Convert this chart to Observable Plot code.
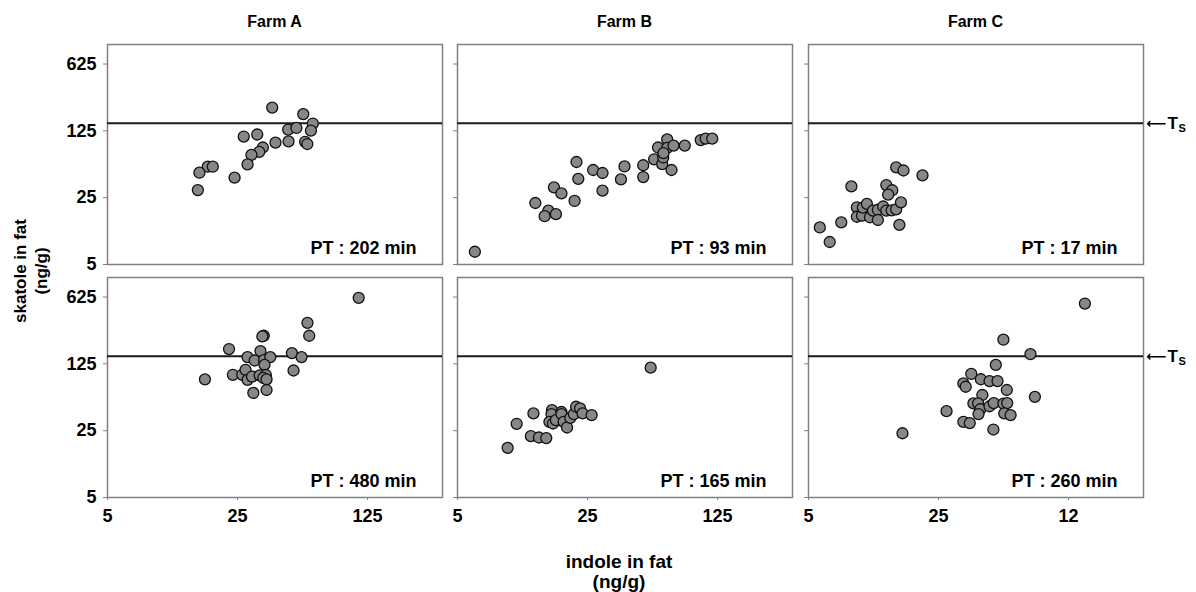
<!DOCTYPE html>
<html><head><meta charset="utf-8">
<script src="https://cdn.jsdelivr.net/npm/d3@7"></script>
<script src="https://cdn.jsdelivr.net/npm/@observablehq/plot@0.6"></script>
<style>
body{margin:0;background:#fff;}
#chart{position:relative;width:1196px;height:592px;font-family:"Liberation Sans",Arial,sans-serif;font-weight:bold;color:#000;overflow:hidden;}
.lbl{position:absolute;white-space:nowrap;text-align:center;}
#chart svg{position:absolute;overflow:visible;}
</style></head><body><div id="chart"></div>
<script>
// ---- data ----
const farms = ["Farm A", "Farm B", "Farm C"];
const yTicks = [5, 25, 125, 625];
const xTicks = [5, 25, 125];
const xTickLabelsA = ["5", "25", "125"];
const xTickLabelsB = ["5", "25", "125"];
const xTickLabelsC = ["5", "25", "12"];
const threshold = 150;
const ptTop = ["PT : 202 min", "PT : 93 min", "PT : 17 min"];
const ptBottom = ["PT : 480 min", "PT : 165 min", "PT : 260 min"];

const aTopIndole  = [38.4,56.4,63.5,46.8,51.8,62,27,31.9,40,47,57.7,59.3,34.2,32.7,29.7,28.3,17.3,18.4,15.6,24.1,15.3];
const aTopSkatole = [219,187,149,129,134,125.5,109,114.5,94,97,96,91,83.7,75.3,70,55.7,52.7,52.7,45.6,40.5,30];

const bTopIndole  = [6.2,13.1,15.4,14.7,16.9,16.5,18.1,21.3,21.8,22.3,26.8,30.1,30.1,37.8,39.5,49.8,49.8,57,63,63.8,59.8,67,67,72.5,64,70.7,83.3,101.5,107.8,117];
const bTopSkatole = [6.8,22,18.3,16,16.8,32,27.7,23.1,59,39.3,48.7,45.3,29.6,38.8,53,54.6,41.1,63,56,65.8,83.7,101.8,82.8,87.6,73,48.7,87.6,100,103.6,103.6];

const cTopIndole  = [5.75,6.5,7.5,8.5,9.1,9.1,9.7,9.8,10.3,10.7,11.1,11.8,11.8,12.6,13.1,13.1,14.1,13.4,14,14.8,15.7,15.4,14.8,16.2,20.5];
const cTopSkatole = [12.2,8.6,13.8,32.8,19.8,15.8,16.2,19.7,21.5,15.6,18.3,18.7,14.6,20.2,18.3,33.9,29.9,26.9,18.4,18.9,22.3,13,51.8,48.1,42.8];

const aBotIndole  = [112,59.4,60.7,34.6,34,22.5,33.2,28.3,30.9,34.7,37.5,34.9,49,55.2,16.7,23.6,26.5,27.6,28.3,29.9,32.9,35.5,34.4,35.8,30.4,35.8,50];
const aBotSkatole = [613,335,246,246,242,178.5,170,147,135.5,137,147,122,162,147,86,96,96,108,85,92,94.7,95.5,89,86,62,66.6,106.5];

const bBotIndole  = [54.6,9.3,10.4,12.8,12.4,13.7,15,16.1,16,15.6,16.3,16.9,18.1,18.1,18.6,19.4,20.2,21.1,21.7,22.8,23.5,26.3];
const bBotSkatole = [114,16.5,29.5,37.9,21.9,21.2,20.9,41,37.3,30.9,29.7,32.2,39.2,37.3,30.9,27,34,37.3,44.5,42.8,37.9,36.4];

const cBotIndole  = [153,55.8,78,50.8,37.5,42.2,47,51.9,34,35,58.2,82.4,43,38.5,40.8,41.9,47,49.5,55.8,58.5,41,56.4,61,27.6,34,36.8,49.3,16];
const cBotSkatole = [534,223.5,158,122,98,86.3,82.5,82.5,78,72,66.6,56.5,59,48.2,48.2,41.9,45,48.6,48,48.6,37.3,37.9,36.4,40,30.9,30,25.7,23.5];

// ---- layout ----
const chart = document.getElementById("chart");
const frameLefts = [107, 457, 808];
const frameTops = [44, 277];
const PW = 335, PH = 220;

function panel(col, row, indole, skatole, pt, xLabels) {
  const ml = col === 0 ? 62 : 8;
  const mr = col === 2 ? 52 : 2;
  const mt = 2;
  const mb = row === 1 ? 34 : 2;
  const data = indole.map((x, i) => ({x, y: skatole[i]}));
  const marks = [
    Plot.axisY({ticks: yTicks, anchor: "left", tickSize: 4, stroke: "#808080", tickFormat: () => "", label: null}),
    Plot.frame({stroke: "#808080", strokeWidth: 1.5}),
    Plot.ruleY([threshold], {stroke: "#1a1a1a", strokeWidth: 1.8}),
    Plot.dot(data, {x: "x", y: "y", r: 5.5, fill: "#878787", stroke: "#111", strokeWidth: 1.3}),
    Plot.text([pt], {text: d => d, frameAnchor: "bottom-right", dx: -26, dy: -16, textAnchor: "end",
      lineAnchor: "middle", fontSize: 18, fontWeight: "bold", fill: "#000"})
  ];
  if (col === 0) {
    marks.push(Plot.text(yTicks, {y: d => d, text: d => String(d), frameAnchor: "left", dx: -11,
      textAnchor: "end", lineAnchor: "middle", fontSize: 18, fontWeight: "bold", fill: "#000"}));
  }
  if (row === 1) {
    marks.push(Plot.axisX({ticks: xTicks, anchor: "bottom", tickSize: 3, tickPadding: 9, stroke: "#808080",
      fontSize: 18, fontWeight: "bold", fill: "#000",
      tickFormat: d => xLabels[xTicks.indexOf(d)], label: null}));
  }
  if (col === 2) {
    marks.push(Plot.text([threshold], {y: d => d, text: () => "\u27F5", frameAnchor: "right", dx: 3,
      textAnchor: "start", lineAnchor: "middle", fontSize: 14, fontWeight: "bold", fill: "#000", fontFamily: "DejaVu Sans"}));
    marks.push(Plot.text([threshold], {y: d => d, text: () => "T", frameAnchor: "right", dx: 24,
      textAnchor: "start", lineAnchor: "middle", fontSize: 17, fontWeight: "bold", fill: "#000"}));
    marks.push(Plot.text([threshold], {y: d => d, text: () => "S", frameAnchor: "right", dx: 35, dy: 5,
      textAnchor: "start", lineAnchor: "middle", fontSize: 11, fontWeight: "bold", fill: "#000"}));
  }
  const svg = Plot.plot({
    width: PW + ml + mr, height: PH + mt + mb,
    marginLeft: ml, marginRight: mr, marginTop: mt, marginBottom: mb,
    x: {type: "log", domain: [5, 316], axis: null},
    y: {type: "log", domain: [5, 1000], axis: null},
    style: {fontFamily: "'Liberation Sans', Arial, sans-serif", fontWeight: "bold", background: "transparent", overflow: "visible"},
    marks
  });
  svg.style.left = (frameLefts[col] - ml) + "px";
  svg.style.top = (frameTops[row] - mt) + "px";
  chart.appendChild(svg);
}

panel(0, 0, aTopIndole, aTopSkatole, ptTop[0], xTickLabelsA);
panel(1, 0, bTopIndole, bTopSkatole, ptTop[1], xTickLabelsB);
panel(2, 0, cTopIndole, cTopSkatole, ptTop[2], xTickLabelsC);
panel(0, 1, aBotIndole, aBotSkatole, ptBottom[0], xTickLabelsA);
panel(1, 1, bBotIndole, bBotSkatole, ptBottom[1], xTickLabelsB);
panel(2, 1, cBotIndole, cBotSkatole, ptBottom[2], xTickLabelsC);

// titles
farms.forEach((f, i) => {
  const d = document.createElement("div");
  d.className = "lbl";
  d.textContent = f;
  d.style.cssText += `left:${frameLefts[i] + PW / 2}px;top:22px;transform:translate(-50%,-50%);font-size:16px;`;
  chart.appendChild(d);
});
const yl = document.createElement("div");
yl.className = "lbl";
yl.innerHTML = "skatole in fat<br>(ng/g)";
yl.style.cssText += "left:31px;top:271px;transform:translate(-50%,-50%) rotate(-90deg);font-size:17px;line-height:21px;";
chart.appendChild(yl);
const xl = document.createElement("div");
xl.className = "lbl";
xl.innerHTML = "indole in fat<br>(ng/g)";
xl.style.cssText += "left:619px;top:572px;transform:translate(-50%,-50%);font-size:19px;line-height:20px;";
chart.appendChild(xl);
</script></body></html>
